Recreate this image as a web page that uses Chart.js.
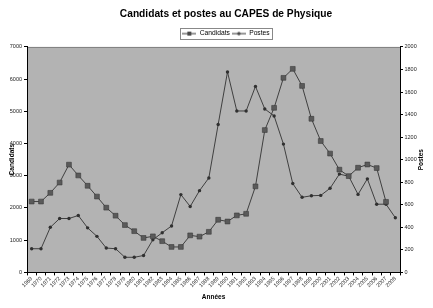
<!DOCTYPE html>
<html>
<head>
<meta charset="utf-8">
<script src="https://cdn.jsdelivr.net/npm/chart.js@4.4.1/dist/chart.umd.min.js"></script>
<style>
  html, body { margin: 0; padding: 0; background: #fff; }
  #wrap { width: 433px; height: 308px; }
</style>
</head>
<body>
<div id="wrap"><canvas id="capesChart" width="433" height="308"></canvas></div>
<script>
const titleText = 'Candidats et postes au CAPES de Physique';
const xTitle = 'Années';
const yLeftTitle = 'Candidats';
const yRightTitle = 'Postes';

const years = [
    '1969', '1970', '1971', '1972', '1973', '1974', '1975', '1976', '1977', '1978',
    '1979', '1980', '1981', '1982', '1983', '1984', '1985', '1986', '1987', '1988',
    '1989', '1990', '1991', '1992', '1993', '1994', '1995', '1996', '1997', '1998',
    '1999', '2000', '2001', '2002', '2003', '2004', '2005', '2006', '2007', '2008'
];

// candidats (axe de gauche)
const candidats = [
    2200, 2200, 2470, 2790, 3345, 3010, 2690, 2355, 2010, 1760,
    1470, 1280, 1070, 1120, 970, 790, 790, 1150, 1110, 1260,
    1635, 1580, 1770, 1820, 2670, 4420, 5110, 6040, 6320, 5790,
    4770, 4080, 3690, 3190, 2990, 3250, 3350, 3240, 2190, null
];

// postes (axe de droite)
const postes = [
    210, 210, 400, 478, 478, 505, 395, 320, 216, 210,
    134, 134, 150, 290, 352, 412, 690, 585, 725, 838,
    1312, 1778, 1432, 1432, 1650, 1450, 1388, 1138, 788, 666,
    680, 683, 746, 872, 853, 692, 830, 605, 605, 485
];

const leftTicks = { min: 0, max: 7000, step: 1000 };
const rightTicks = { min: 0, max: 2000, step: 200 };

Chart.defaults.font.family = 'Arial, "Liberation Sans", sans-serif';
Chart.defaults.color = '#000';

// petits symboles de legende (trait + marqueur)
function makeIcon(kind) {
    const c = document.createElement('canvas');
    c.width = 14;
    c.height = 6;
    const g = c.getContext('2d');
    g.strokeStyle = '#333';
    g.lineWidth = 1;
    g.beginPath();
    g.moveTo(0, 3);
    g.lineTo(14, 3);
    g.stroke();
    g.fillStyle = '#4a4a4a';
    if (kind === 'rect') {
        g.fillRect(5, 1, 4, 4);
    } else {
        g.beginPath();
        g.arc(7, 3, 1.7, 0, Math.PI * 2);
        g.fill();
    }
    return c;
}
const icons = [makeIcon('rect'), makeIcon('circle')];

const framePlugin = {
    id: 'frame',
    afterLayout(chart) {
        // l'axe de gauche deborde dans la marge pour ne pas couper ses etiquettes
        const s = chart.scales.y;
        s.left = 0;
        s.width = s.right;
    },
    beforeDraw(chart) {
        const { ctx, chartArea: a } = chart;
        ctx.save();
        ctx.fillStyle = '#b3b3b3';
        ctx.fillRect(a.left, a.top, a.right - a.left, a.bottom - a.top);
        ctx.strokeStyle = '#808080';
        ctx.lineWidth = 1;
        ctx.beginPath();
        ctx.moveTo(a.left, a.top + 0.5);
        ctx.lineTo(a.right, a.top + 0.5);
        ctx.stroke();
        ctx.restore();
    },
    afterDraw(chart) {
        const { ctx, chartArea: a } = chart;
        const mid = (a.top + a.bottom) / 2;
        ctx.save();
        ctx.fillStyle = '#000';
        ctx.font = 'bold 6.5px Arial, "Liberation Sans", sans-serif';
        ctx.textAlign = 'center';
        ctx.textBaseline = 'middle';
        ctx.translate(12.5, mid);
        ctx.rotate(-Math.PI / 2);
        ctx.fillText(yLeftTitle, 0, 0);
        ctx.restore();

        ctx.save();
        ctx.fillStyle = '#000';
        ctx.font = 'bold 6.5px Arial, "Liberation Sans", sans-serif';
        ctx.textAlign = 'center';
        ctx.textBaseline = 'middle';
        ctx.translate(421.5, mid);
        ctx.rotate(-Math.PI / 2);
        ctx.fillText(yRightTitle, 0, 0);
        ctx.restore();

        // cadre de la legende
        const boxes = chart.legend.legendHitBoxes;
        if (boxes && boxes.length) {
            const first = boxes[0];
            const last = boxes[boxes.length - 1];
            const x0 = Math.round(first.left - 2) + 0.5;
            const x1 = Math.round(last.left + last.width + 2) + 0.5;
            const y0 = Math.round(first.top - 2.5) + 0.5;
            const y1 = Math.round(first.top + first.height + 2.5) + 0.5;
            ctx.save();
            ctx.strokeStyle = '#888';
            ctx.lineWidth = 1;
            ctx.strokeRect(x0, y0, x1 - x0, y1 - y0);
            ctx.restore();
        }
    }
};

const plainNumber = (value) => String(value);

const ctx = document.getElementById('capesChart').getContext('2d');
const capesChart = new Chart(ctx, {
    type: 'line',
    data: {
        labels: years,
        datasets: [
            {
                label: 'Candidats',
                data: candidats,
                yAxisID: 'y',
                borderColor: '#404040',
                borderWidth: 1,
                pointStyle: 'rect',
                pointRadius: 3.4,
                pointBackgroundColor: '#5a5a5a',
                pointBorderColor: '#3a3a3a',
                pointBorderWidth: 0.6,
                fill: false,
                tension: 0,
            },
            {
                label: 'Postes',
                data: postes,
                yAxisID: 'y1',
                borderColor: '#404040',
                borderWidth: 1,
                pointStyle: 'circle',
                pointRadius: 1.7,
                pointBackgroundColor: '#303030',
                pointBorderColor: '#303030',
                pointBorderWidth: 0,
                fill: false,
                tension: 0,
            },
        ],
    },
    options: {
        responsive: false,
        animation: false,
        layout: { padding: { left: 19, right: 0, top: 0, bottom: 0 } },
        plugins: {
            title: {
                display: true,
                text: titleText,
                font: { size: 10.2, weight: 'bold' },
                padding: { top: 8, bottom: 8 },
                color: '#000',
            },
            legend: {
                display: true,
                position: 'top',
                labels: {
                    usePointStyle: true,
                    pointStyleWidth: 14,
                    padding: 2,
                    font: { size: 6.7 },
                    color: '#000',
                    generateLabels(chart) {
                        const items = Chart.defaults.plugins.legend.labels.generateLabels(chart);
                        items.forEach((it, i) => { it.pointStyle = icons[i]; });
                        return items;
                    },
                },
            },
            tooltip: { enabled: false },
        },
        scales: {
            x: {
                type: 'category',
                offset: true,
                afterFit: (s) => { s.height = 35.6; },
                grid: {
                    display: true,
                    offset: true,
                    drawOnChartArea: false,
                    tickLength: 3,
                    color: '#000',
                },
                border: { display: true, color: '#000', width: 1 },
                ticks: {
                    autoSkip: false,
                    maxRotation: 45,
                    minRotation: 45,
                    padding: 0,
                    font: { size: 5.5 },
                    color: '#222',
                },
                title: {
                    display: true,
                    text: xTitle,
                    font: { size: 6.5, weight: 'bold' },
                    padding: { top: 7, bottom: 7 },
                    color: '#000',
                },
            },
            y: {
                position: 'left',
                min: leftTicks.min,
                max: leftTicks.max,
                afterFit: (s) => { s.width = 8; },
                grid: {
                    display: true,
                    drawOnChartArea: false,
                    tickLength: 3,
                    color: '#000',
                },
                border: { display: true, color: '#000', width: 1 },
                ticks: {
                    stepSize: leftTicks.step,
                    padding: 2,
                    font: { size: 5.5 },
                    color: '#222',
                    callback: plainNumber,
                },
            },
            y1: {
                position: 'right',
                min: rightTicks.min,
                max: rightTicks.max,
                afterFit: (s) => { s.width = 33; },
                grid: {
                    display: true,
                    drawOnChartArea: false,
                    tickLength: 3,
                    color: '#000',
                },
                border: { display: true, color: '#000', width: 1 },
                ticks: {
                    stepSize: rightTicks.step,
                    padding: 1.5,
                    font: { size: 5.5 },
                    color: '#222',
                    callback: plainNumber,
                },
            },
        },
    },
    plugins: [framePlugin],
});
</script>
</body>
</html>
